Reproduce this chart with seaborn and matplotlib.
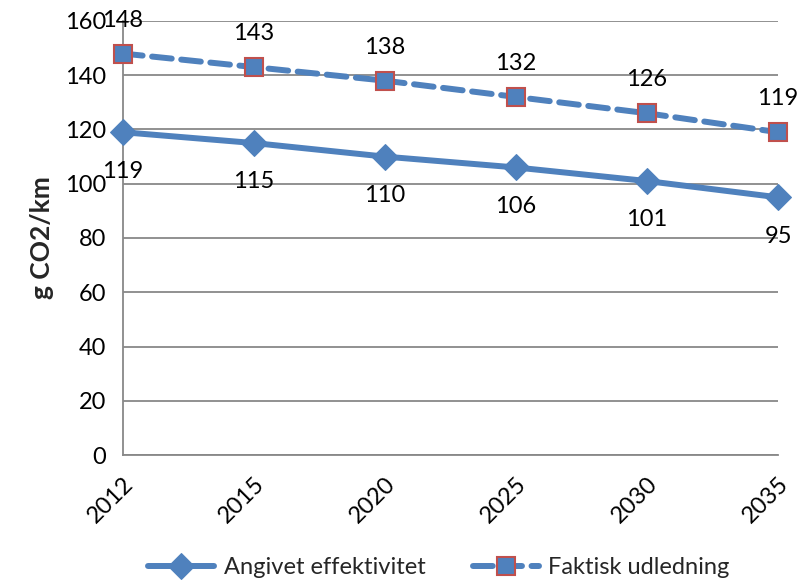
import matplotlib
matplotlib.use("Agg")
import matplotlib.pyplot as plt
import seaborn as sns
import pandas as pd

years = ["2012", "2015", "2020", "2025", "2030", "2035"]
angivet = [119, 115, 110, 106, 101, 95]
faktisk = [148, 143, 138, 132, 126, 119]
yticks = [0, 20, 40, 60, 80, 100, 120, 140, 160]

sns.set_theme(style="white")
plt.rcParams['font.family'] = ['Lato', 'DejaVu Sans']

blue = "#4F81BD"
red = "#C0504D"

fig = plt.figure(figsize=(8.11, 5.84), dpi=100)
ax = fig.add_axes([123/811, 1-455/584, (778-123)/811, (455-21)/584])

df = pd.DataFrame({"x": range(len(years)), "a": angivet, "f": faktisk})
sns.lineplot(data=df, x="x", y="a", ax=ax, color=blue, lw=4.3, marker="D",
             markersize=13, markerfacecolor=blue, markeredgecolor=blue,
             label="Angivet effektivitet", clip_on=False, zorder=3)
sns.lineplot(data=df, x="x", y="f", ax=ax, color=blue, lw=4.3, marker="s",
             markersize=13, markerfacecolor=blue, markeredgecolor=red,
             markeredgewidth=1.5, label="Faktisk udledning", clip_on=False, zorder=3)
ln = ax.lines[1]
ln.set_linestyle((0, (3.3, 1.6)))
ln.set_dash_capstyle("round")

for i, v in enumerate(angivet):
    ax.annotate(str(v), (i, v), xytext=(0, -28), textcoords="offset points",
                ha="center", va="center", fontsize=17, color="black")
for i, v in enumerate(faktisk):
    ax.annotate(str(v), (i, v), xytext=(0, 24), textcoords="offset points",
                ha="center", va="center", fontsize=17, color="black")

ax.set_xlim(0, 5)
ax.set_ylim(0, 160)
ax.set_yticks(yticks)
ax.set_xticks(range(len(years)))
ax.set_xticklabels(years, rotation=45, ha="right", rotation_mode="anchor")
ax.tick_params(axis="both", labelsize=17, colors="black", length=7, color="#888888", width=1.2,
               direction="out")
ax.tick_params(axis="x", pad=6)
ax.tick_params(axis="y", pad=5)
ax.yaxis.grid(True, color="#888888", lw=1.3)
ax.xaxis.grid(False)
for s in ["top", "right"]:
    ax.spines[s].set_visible(False)
for s in ["left", "bottom"]:
    ax.spines[s].set_color("#888888")
    ax.spines[s].set_linewidth(1.3)
ax.set_xlabel("")
ax.set_ylabel("g CO2/km", fontsize=19, fontweight="bold", labelpad=8)

h, l = ax.get_legend_handles_labels()
ax.legend(h, l, loc="center", bbox_to_anchor=((439-123)/655, -(568-455)/434), ncol=2, frameon=False,
          fontsize=17, handlelength=2.8, columnspacing=2.0, handletextpad=0.4,
          borderaxespad=0, borderpad=0)

fig.savefig("out.png", dpi=100)
